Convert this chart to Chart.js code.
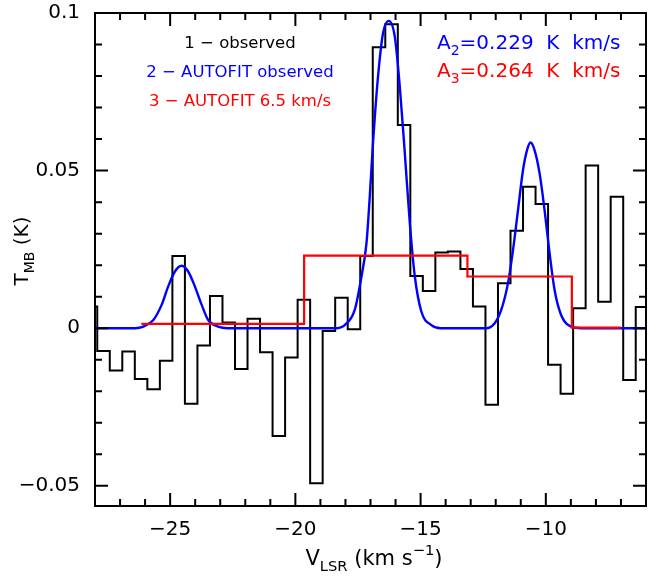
<!DOCTYPE html>
<html>
<head>
<meta charset="utf-8">
<title>T_MB spectrum</title>
<script src="https://cdn.jsdelivr.net/npm/chart.js@4.4.1/dist/chart.umd.min.js"></script>
<style>
  html, body { margin: 0; padding: 0; background: #fff; }
  #wrap { width: 664px; height: 577px; }
</style>
</head>
<body>
<div id="wrap"><canvas id="spectrum"></canvas></div>
<script>
// observed spectrum, 0.5 km/s channels (left edge of each channel + final right edge)
const channelEdges = [
  -28.41, -27.91, -27.41, -26.91, -26.41, -25.91, -25.41, -24.91, -24.41, -23.91,
  -23.41, -22.91, -22.41, -21.91, -21.41, -20.91, -20.41, -19.91, -19.41, -18.91,
  -18.41, -17.91, -17.41, -16.91, -16.41, -15.91, -15.41, -14.91, -14.41, -13.91,
  -13.41, -12.91, -12.41, -11.91, -11.41, -10.91, -10.41, -9.91, -9.41, -8.91,
  -8.41, -7.91, -7.41, -6.91, -6.41, -5.91
];
const observedT = [
  0.0069, -0.0072, -0.0134, -0.0074, -0.0161, -0.0194, -0.0103, 0.0229, -0.0240, -0.0055,
  0.0102, 0.0018, -0.0129, 0.0030, -0.0076, -0.0342, -0.0093, 0.0090, -0.0492, -0.0009,
  0.0097, -0.0003, 0.0229, 0.0891, 0.0964, 0.0645, 0.0166, 0.0118, 0.0240, 0.0243,
  0.0188, 0.0069, -0.0243, 0.0143, 0.0309, 0.0449, 0.0394, -0.0116, -0.0208, 0.0063,
  0.0516, 0.0084, 0.0417, -0.0164, 0.0067
];

// AUTOFIT of the observed spectrum
const fitV = [
  -28.0, -26.4, -26.07, -25.67, -25.34, -25.08, -24.81, -24.54, -24.28, -24.01,
  -23.74, -23.48, -23.08, -22.7, -18.4, -18.03, -17.63, -17.36, -17.16, -17.03,
  -16.9, -16.7, -16.5, -16.27, -16.03, -15.83, -15.63, -15.43, -15.23, -14.97,
  -14.57, -14.2, -12.4, -12.04, -11.78, -11.51, -11.31, -11.11, -10.91, -10.75,
  -10.61, -10.45, -10.25, -10.05, -9.85, -9.65, -9.39, -8.99, -8.6, -6.0
];
const fitT = [
  0, 0, 0.0005, 0.0026, 0.0074, 0.0132, 0.0180, 0.0198, 0.0180, 0.0132,
  0.0074, 0.0026, 0.0005, 0, 0, 0.0010, 0.0058, 0.0164, 0.0270, 0.0417,
  0.0587, 0.0798, 0.0936, 0.0975, 0.0925, 0.0766, 0.0555, 0.0333, 0.0164, 0.0053,
  0.0010, 0, 0, 0.0016, 0.0058, 0.0143, 0.0248, 0.0375, 0.0502, 0.0565,
  0.0589, 0.0565, 0.0492, 0.0375, 0.0238, 0.0121, 0.0042, 0.0005, 0, 0
];

// AUTOFIT 6.5 km/s (step edges)
const wideV = [-26.15, -19.65, -13.13, -8.96, -7.0];
const wideT = [0.0014, 0.0230, 0.0164, 0.0002, 0.0002];

const legendLines = ["1 \u2212 observed", "2 \u2212 AUTOFIT observed", "3 \u2212 AUTOFIT 6.5 km/s"];
const areaTexts = ["=0.229  K  km/s", "=0.264  K  km/s"];

const FONT = '"DejaVu Sans", sans-serif';
const isMultiple = (v, step) => Math.abs(v / step - Math.round(v / step)) < 1e-6;

const observedPts = channelEdges.map((v, i) => ({ x: v, y: observedT[Math.min(i, observedT.length - 1)] }));
const fitPts = fitV.map((v, i) => ({ x: v, y: fitT[i] }));
const widePts = wideV.map((v, i) => ({ x: v, y: wideT[i] }));

function drawRuns(ctx, runs, x, y, size, align) {
  const fontFor = k => (k ? size * 0.7 : size) + "px " + FONT;
  const widths = runs.map(([t, k]) => { ctx.font = fontFor(k); return ctx.measureText(t).width; });
  const total = widths.reduce((a, b) => a + b, 0);
  let cx = align === "center" ? x - total / 2 : x;
  runs.forEach(([t, k], i) => {
    ctx.font = fontFor(k);
    const dy = k === "sub" ? size * 0.3 : k === "sup" ? -size * 0.5 : 0;
    ctx.fillText(t, cx, y + dy);
    cx += widths[i];
  });
}

const framePlugin = {
  id: "frame",
  afterDraw(chart) {
    const { ctx, chartArea: a, scales: { x, y } } = chart;
    ctx.save();
    ctx.strokeStyle = "#000";
    ctx.lineWidth = 2;
    ctx.strokeRect(a.left, a.top, a.right - a.left, a.bottom - a.top);

    // inward ticks on all four sides
    ctx.beginPath();
    x.ticks.forEach(t => {
      const px = x.getPixelForValue(t.value);
      const len = isMultiple(t.value, 5) ? 13 : 7;
      ctx.moveTo(px, a.bottom); ctx.lineTo(px, a.bottom - len);
      ctx.moveTo(px, a.top); ctx.lineTo(px, a.top + len);
    });
    y.ticks.forEach(t => {
      const py = y.getPixelForValue(t.value);
      const len = isMultiple(t.value, 0.05) ? 13 : 7;
      ctx.moveTo(a.left, py); ctx.lineTo(a.left + len, py);
      ctx.moveTo(a.right, py); ctx.lineTo(a.right - len, py);
    });
    ctx.stroke();

    ctx.textAlign = "left";
    ctx.textBaseline = "alphabetic";
    ctx.fillStyle = "#000";

    // axis titles
    drawRuns(ctx, [["V", ""], ["LSR", "sub"], [" (km s", ""], ["\u22121", "sup"], [")", ""]], 374, 565, 21, "center");
    ctx.save();
    ctx.translate(28, 251);
    ctx.rotate(-Math.PI / 2);
    drawRuns(ctx, [["T", ""], ["MB", "sub"], [" (K)", ""]], 0, 0, 20, "center");
    ctx.restore();

    // legend block
    ctx.font = "16.5px " + FONT;
    ctx.textAlign = "center";
    const legendColors = ["#000", "#0000ff", "#ff0000"];
    legendLines.forEach((s, i) => {
      ctx.fillStyle = legendColors[i];
      ctx.fillText(s, 240, 48 + i * 29);
    });

    // integrated areas
    ctx.textAlign = "left";
    ctx.fillStyle = "#0000ff";
    drawRuns(ctx, [["A", ""], ["2", "sub"], [areaTexts[0], ""]], 437, 49, 20, "left");
    ctx.fillStyle = "#ff0000";
    drawRuns(ctx, [["A", ""], ["3", "sub"], [areaTexts[1], ""]], 437, 77, 20, "left");
    ctx.restore();
  }
};

Chart.defaults.font.family = FONT;
Chart.defaults.color = "#000";

new Chart(document.getElementById("spectrum"), {
  type: "line",
  data: {
    datasets: [
      {
        label: "AUTOFIT 6.5 km/s",
        data: widePts,
        stepped: "before",
        borderColor: "#ff0000",
        borderWidth: 2.2,
        fill: false,
        order: 1,
      },
      {
        label: "AUTOFIT observed",
        data: fitPts,
        cubicInterpolationMode: "monotone",
        borderColor: "#0000ff",
        borderWidth: 2.4,
        fill: false,
        order: 2,
      },
      {
        label: "observed",
        data: observedPts,
        stepped: "before",
        borderColor: "#000",
        borderWidth: 2,
        fill: false,
        order: 3,
      },
    ],
  },
  options: {
    responsive: true,
    maintainAspectRatio: false,
    animation: false,
    devicePixelRatio: 1,
    layout: { padding: { top: 13, right: 18, left: 0, bottom: 0 } },
    elements: { point: { radius: 0 } },
    plugins: { legend: { display: false }, tooltip: { enabled: false } },
    scales: {
      x: {
        type: "linear",
        min: -28,
        max: -6,
        grid: { display: false, drawTicks: false },
        border: { display: false },
        ticks: {
          stepSize: 1,
          autoSkip: false,
          maxRotation: 0,
          padding: 12,
          font: { size: 20 },
          callback: v => (isMultiple(v, 5) ? String(v).replace("-", "\u2212") : ""),
        },
        afterFit: s => { s.height = 71; s.paddingLeft = 0; s.paddingRight = 0; },
      },
      y: {
        type: "linear",
        min: -0.0564,
        max: 0.1,
        grid: { display: false, drawTicks: false },
        border: { display: false },
        ticks: {
          stepSize: 0.01,
          includeBounds: false,
          autoSkip: false,
          padding: 15,
          font: { size: 20 },
          callback: v => {
            if (!isMultiple(v, 0.05)) return "";
            if (Math.abs(v) < 1e-9) return "0";
            return String(+v.toFixed(2)).replace("-", "\u2212");
          },
        },
        afterFit: s => { s.width = 95; s.paddingTop = 0; s.paddingBottom = 0; },
      },
    },
  },
  plugins: [framePlugin],
});
</script>
</body>
</html>
